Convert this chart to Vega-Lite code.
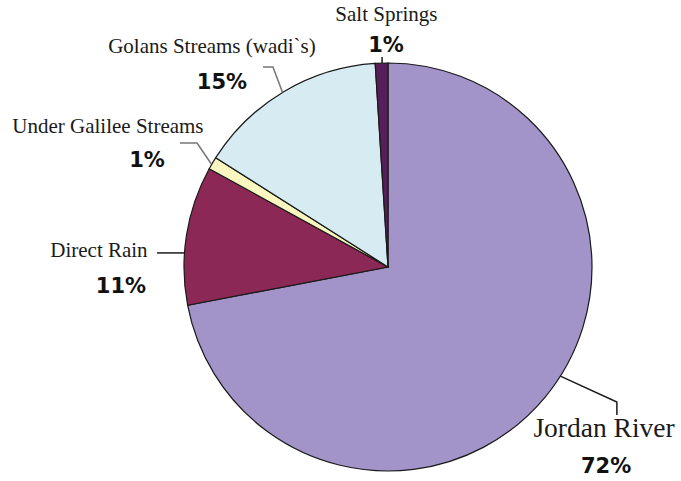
{
  "$schema": "https://vega.github.io/schema/vega-lite/v6.json",
  "width": 586,
  "height": 428,
  "autosize": {"type": "none"},
  "padding": {"left": 95, "top": 53, "right": 0, "bottom": 0},
  "background": "white",
  "config": {"view": {"stroke": null}},
  "datasets": {
    "slices": [
      {"source": "Jordan River", "share": 72, "ord": 1},
      {"source": "Direct Rain", "share": 11, "ord": 2},
      {"source": "Under Galilee Streams", "share": 1, "ord": 3},
      {"source": "Golans Streams (wadi`s)", "share": 15, "ord": 4},
      {"source": "Salt Springs", "share": 1, "ord": 5}
    ],
    "labels": [
      {"source": "Salt Springs", "kind": "name", "label": "Salt Springs", "x": -0.008, "y": 1.206},
      {"source": "Salt Springs", "kind": "pct", "label": "1%", "x": -0.01, "y": 1.054},
      {"source": "Golans Streams (wadi`s)", "kind": "name", "label": "Golans Streams (wadi`s)", "x": -0.863, "y": 1.049},
      {"source": "Golans Streams (wadi`s)", "kind": "pct", "label": "15%", "x": -0.814, "y": 0.873},
      {"source": "Under Galilee Streams", "kind": "name", "label": "Under Galilee Streams", "x": -1.373, "y": 0.657},
      {"source": "Under Galilee Streams", "kind": "pct", "label": "1%", "x": -1.181, "y": 0.49},
      {"source": "Direct Rain", "kind": "name", "label": "Direct Rain", "x": -1.417, "y": 0.049},
      {"source": "Direct Rain", "kind": "pct", "label": "11%", "x": -1.309, "y": -0.128},
      {"source": "Jordan River", "kind": "name", "label": "Jordan River", "x": 1.059, "y": -0.833},
      {"source": "Jordan River", "kind": "pct", "label": "72%", "x": 1.069, "y": -1.01}
    ],
    "leaders": [
      {"source": "Salt Springs", "step": 1, "x": -0.029, "y": 1.029},
      {"source": "Salt Springs", "step": 2, "x": -0.029, "y": 0.9996},
      {"source": "Golans Streams (wadi`s)", "step": 1, "x": -0.613, "y": 0.98},
      {"source": "Golans Streams (wadi`s)", "step": 2, "x": -0.564, "y": 0.98},
      {"source": "Golans Streams (wadi`s)", "step": 3, "x": -0.517, "y": 0.856},
      {"source": "Under Galilee Streams", "step": 1, "x": -1.02, "y": 0.608},
      {"source": "Under Galilee Streams", "step": 2, "x": -0.936, "y": 0.608},
      {"source": "Under Galilee Streams", "step": 3, "x": -0.866, "y": 0.505},
      {"source": "Direct Rain", "step": 1, "x": -1.132, "y": 0.069},
      {"source": "Direct Rain", "step": 2, "x": -0.998, "y": 0.069},
      {"source": "Jordan River", "step": 1, "x": 0.845, "y": -0.535},
      {"source": "Jordan River", "step": 2, "x": 1.122, "y": -0.662},
      {"source": "Jordan River", "step": 3, "x": 1.122, "y": -0.726}
    ]
  },
  "layer": [
    {
      "data": {"name": "slices"},
      "mark": {"type": "arc", "outerRadius": 204, "stroke": "#1a1a1a", "strokeWidth": 1.2},
      "encoding": {
        "theta": {"field": "share", "type": "quantitative", "stack": true},
        "order": {"field": "ord", "type": "quantitative"},
        "fill": {
          "field": "source",
          "type": "nominal",
          "scale": {
            "domain": ["Jordan River", "Direct Rain", "Under Galilee Streams", "Golans Streams (wadi`s)", "Salt Springs"],
            "range": ["#A294C8", "#8C2855", "#FAF6C0", "#D6ECF2", "#561F5C"]
          },
          "legend": null
        }
      }
    },
    {
      "data": {"name": "leaders"},
      "mark": {"type": "line", "strokeWidth": 1.5},
      "encoding": {
        "x": {"field": "x", "type": "quantitative", "scale": {"domain": [-1.43627, 1.43627], "nice": false, "zero": false}, "axis": null},
        "y": {"field": "y", "type": "quantitative", "scale": {"domain": [-1.04902, 1.04902], "nice": false, "zero": false}, "axis": null},
        "detail": {"field": "source", "type": "nominal"},
        "order": {"field": "step", "type": "quantitative"},
        "stroke": {
          "field": "source",
          "type": "nominal",
          "scale": {
            "domain": ["Jordan River", "Direct Rain", "Under Galilee Streams", "Golans Streams (wadi`s)", "Salt Springs"],
            "range": ["#1a1a1a", "#1a1a1a", "#777777", "#777777", "#1a1a1a"]
          },
          "legend": null
        }
      }
    },
    {
      "data": {"name": "labels"},
      "transform": [{"filter": "datum.kind === 'name'"}],
      "mark": {"type": "text", "font": "Liberation Serif", "align": "center", "baseline": "alphabetic", "color": "#1a1a1a"},
      "encoding": {
        "x": {"field": "x", "type": "quantitative", "scale": {"domain": [-1.43627, 1.43627], "nice": false, "zero": false}, "axis": null},
        "y": {"field": "y", "type": "quantitative", "scale": {"domain": [-1.04902, 1.04902], "nice": false, "zero": false}, "axis": null},
        "text": {"field": "label", "type": "nominal"},
        "size": {"condition": {"test": "datum.source === 'Jordan River'", "value": 27.5}, "value": 21}
      }
    },
    {
      "data": {"name": "labels"},
      "transform": [{"filter": "datum.kind === 'pct'"}],
      "mark": {"type": "text", "font": "DejaVu Sans", "fontWeight": "bold", "fontSize": 21, "align": "center", "baseline": "alphabetic", "color": "#111111"},
      "encoding": {
        "x": {"field": "x", "type": "quantitative", "scale": {"domain": [-1.43627, 1.43627], "nice": false, "zero": false}, "axis": null},
        "y": {"field": "y", "type": "quantitative", "scale": {"domain": [-1.04902, 1.04902], "nice": false, "zero": false}, "axis": null},
        "text": {"field": "label", "type": "nominal"}
      }
    }
  ]
}
